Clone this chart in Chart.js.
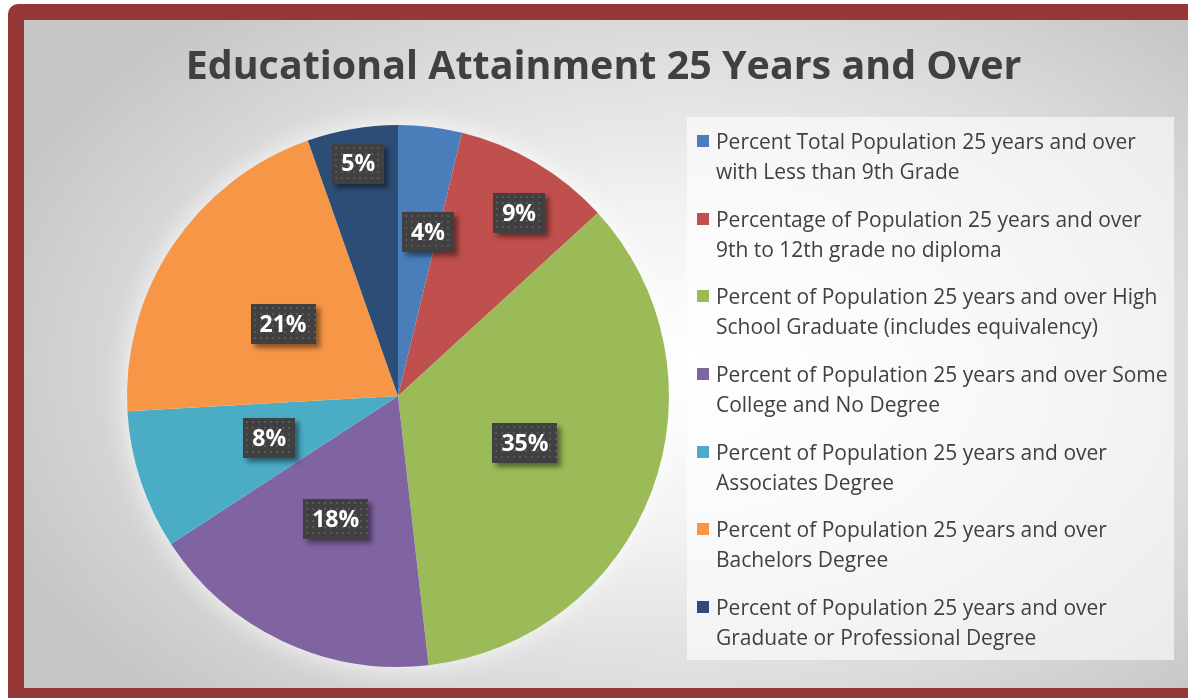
<!DOCTYPE html>
<html>
<head>
<meta charset="utf-8">
<script src="https://cdn.jsdelivr.net/npm/chart.js@4"></script>
<style>
  html, body { margin: 0; padding: 0; background: #fff; overflow: hidden; }
  body { width: 1188px; height: 698px; position: relative; font-family: "Open Sans", sans-serif; }
  .frame {
    position: absolute; left: 8px; top: 4px; width: 1175px; height: 668px;
    border: 16px solid #963836; border-right-width: 5px; border-bottom-width: 10px;
    border-top-left-radius: 10px;
    background: radial-gradient(ellipse 62% 70% at 56% 52%, #ffffff 0%, #f2f2f2 35%, #dcdcdc 70%, #c6c6c6 100%);
  }
  #chart { position: absolute; left: 0; top: 0; }
  .title {
    position: absolute; left: 0; top: 16px; width: 1159px; text-align: center;
    font-weight: bold; color: #404040; line-height: 56px; white-space: nowrap;
  }
  .legend {
    position: absolute; left: 663px; top: 97px; width: 487px; height: 543px;
    background: rgba(255,255,255,0.6); box-sizing: border-box; padding-top: 9px;
  }
  .legend .item { position: relative; height: 60px; margin-bottom: 17.7px; padding-left: 29px; }
  .legend .swatch { position: absolute; left: 10px; top: 9px; width: 12px; height: 12px; }
  .legend .text { line-height: 30px; color: #404040; white-space: nowrap; }
</style>
</head>
<body>
<div class="frame">
  <canvas id="chart" width="1159" height="668"></canvas>
  <div class="title" id="title">Educational Attainment 25 Years and Over</div>
  <div class="legend" id="legend"></div>
</div>
<script>
// Educational attainment, population 25 years and over (percent of total).
// Legend lines are kept as they wrap in the original chart.

const CATEGORIES = [
  ["Percent Total Population 25 years and over", "with Less than 9th Grade"],
  ["Percentage of Population 25 years and over", "9th to 12th grade no diploma"],
  ["Percent of Population 25 years and over High", "School Graduate (includes equivalency)"],
  ["Percent of Population 25 years and over Some", "College and No Degree"],
  ["Percent of Population 25 years and over", "Associates Degree"],
  ["Percent of Population 25 years and over", "Bachelors Degree"],
  ["Percent of Population 25 years and over", "Graduate or Professional Degree"],
];
const PERCENTS = [3.8, 9.4, 35.0, 17.6, 8.3, 20.5, 5.4];
const COLORS = ["#4a7ebb", "#c0504d", "#9bbb59", "#8064a2", "#4bacc6", "#f79646", "#2c4d75"];

// data-label placement: distance from centre (fraction of radius), angle nudge (deg)
const LABEL_RADIUS = [0.615, 0.81, 0.5, 0.51, 0.5, 0.5, 0.87];
const LABEL_NUDGE  = [3.5, 2.9, 0, 1.6, 0, -1.7, 0];

const FONT = "'Open Sans', sans-serif";

// ---------- Font sizing (fit the original's text widths) ----------

function fitSize(text, weight, targetWidth) {
  const c = document.createElement("canvas").getContext("2d");
  c.font = `${weight} 40px ${FONT}`;
  return 40 * targetWidth / c.measureText(text).width;
}

const titleEl = document.getElementById("title");
titleEl.style.fontSize = fitSize(titleEl.textContent, "bold", 836).toFixed(2) + "px";

const legendSize = fitSize(CATEGORIES[0][0], "normal", 420);

// ---------- Legend (html) ----------

document.getElementById("legend").innerHTML = CATEGORIES.map((lines, i) => `
  <div class="item">
    <span class="swatch" style="background:${COLORS[i]}"></span>
    <div class="text" style="font-size:${legendSize.toFixed(2)}px">${lines.join("<br>")}</div>
  </div>`).join("");

// ---------- Plugins ----------

// soft white glow behind the pie
const pieGlow = {
  id: "pieGlow",
  beforeDatasetsDraw(chart) {
    const arc = chart.getDatasetMeta(0).data[0];
    if (!arc) return;
    const { x, y, outerRadius } = arc.getProps(["x", "y", "outerRadius"], true);
    const ctx = chart.ctx;
    ctx.save();
    ctx.shadowColor = "rgba(255,255,255,0.95)";
    ctx.shadowBlur = 28;
    ctx.fillStyle = "#ffffff";
    ctx.beginPath();
    ctx.arc(x, y, outerRadius - 2, 0, Math.PI * 2);
    ctx.fill();
    ctx.restore();
  },
};

// dark dotted boxes with the rounded percentage
const boxLabels = {
  id: "boxLabels",
  afterDatasetsDraw(chart) {
    const ctx = chart.ctx;
    const meta = chart.getDatasetMeta(0);
    ctx.save();
    ctx.font = `bold 23px ${FONT}`;
    ctx.textAlign = "center";
    ctx.textBaseline = "middle";
    meta.data.forEach((arc, i) => {
      const p = arc.getProps(["x", "y", "startAngle", "endAngle", "outerRadius"], true);
      const a = (p.startAngle + p.endAngle) / 2 + LABEL_NUDGE[i] * Math.PI / 180;
      const r = p.outerRadius * LABEL_RADIUS[i];
      const cx = p.x + Math.cos(a) * r;
      const cy = p.y + Math.sin(a) * r;
      const text = Math.round(PERCENTS[i]) + "%";
      const w = Math.round(ctx.measureText(text).width + 18);
      const h = 40;
      const bx = Math.round(cx - w / 2), by = Math.round(cy - h / 2);

      ctx.save();
      ctx.shadowColor = "rgba(0,0,0,0.45)";
      ctx.shadowBlur = 5;
      ctx.shadowOffsetX = 4;
      ctx.shadowOffsetY = 4;
      ctx.fillStyle = "#404040";
      ctx.fillRect(bx, by, w, h);
      ctx.restore();

      ctx.fillStyle = "#585858";
      for (let yy = by + 3; yy < by + h - 1; yy += 6) {
        for (let xx = bx + 3; xx < bx + w - 1; xx += 6) ctx.fillRect(xx, yy, 2, 2);
      }
      ctx.fillStyle = "#ffffff";
      ctx.fillText(text, cx, cy + 1);
    });
    ctx.restore();
  },
};

// ---------- Chart ----------

new Chart(document.getElementById("chart"), {
  type: "pie",
  data: {
    labels: CATEGORIES.map(l => l.join(" ")),
    datasets: [{
      data: PERCENTS,
      backgroundColor: COLORS,
      borderWidth: 0,
    }],
  },
  options: {
    responsive: false,
    devicePixelRatio: 1,
    animation: false,
    layout: { padding: { left: 103, right: 514, top: 105, bottom: 21 } },
    plugins: {
      legend: { display: false },
      tooltip: { enabled: false },
      title: { display: false },
    },
  },
  plugins: [pieGlow, boxLabels],
});
</script>
</body>
</html>
